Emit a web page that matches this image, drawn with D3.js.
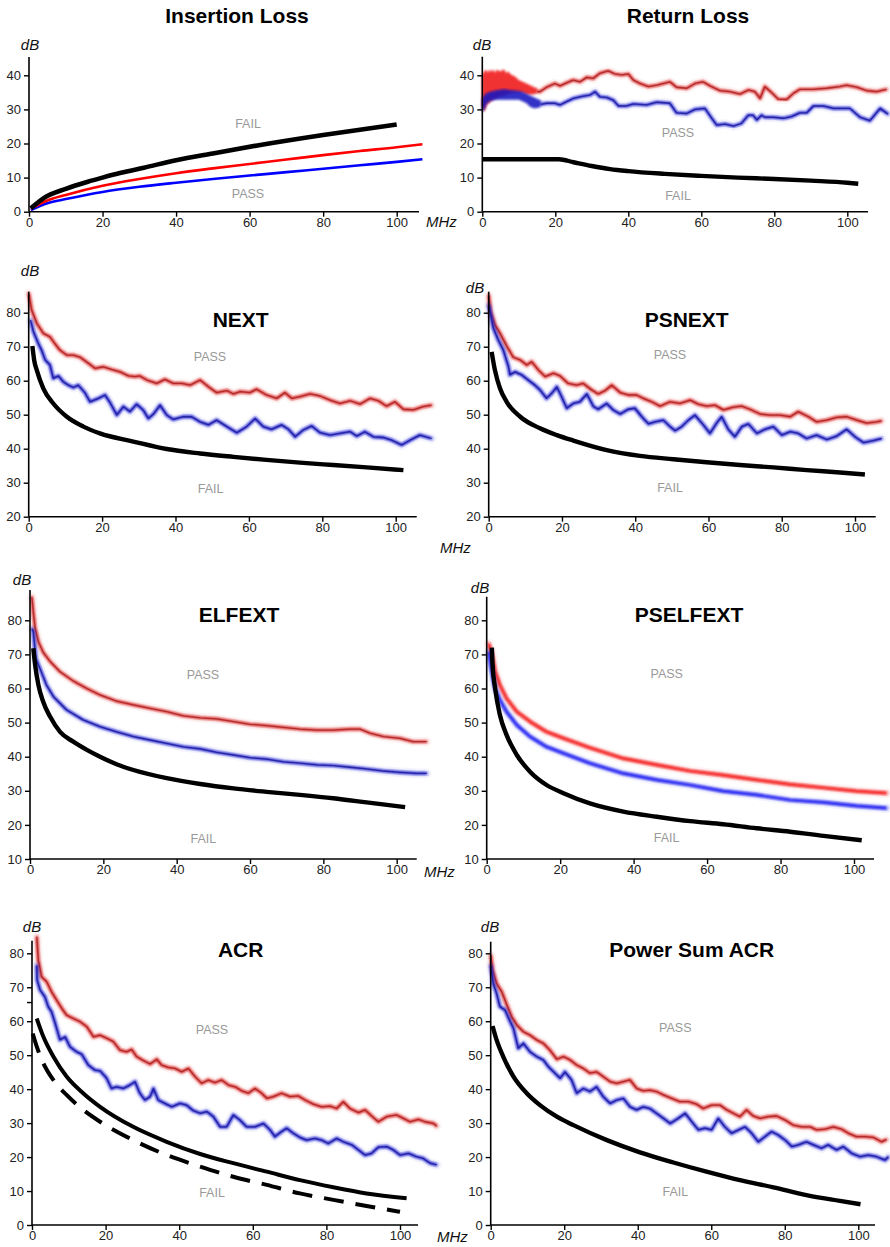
<!DOCTYPE html>
<html>
<head>
<meta charset="utf-8">
<script src="https://cdn.jsdelivr.net/npm/d3@7"></script>
<style>
  html, body { margin: 0; padding: 0; background: #fff; }
  svg { display: block; }
</style>
</head>
<body>
<script>
// ---------------- DATA (frequency MHz, dB) ----------------
const xTicks = [0, 20, 40, 60, 80, 100];
const ilTicks = [0, 10, 20, 30, 40];
const rlTicks = [0, 10, 20, 30, 40];
const nextTicks = [20, 30, 40, 50, 60, 70, 80];
const elfextTicks = [10, 20, 30, 40, 50, 60, 70, 80];
const acrTicks = [0, 10, 20, 30, 40, 50, 60, 70, 80];

// Insertion loss
const ilLimit = [[0.5,1.0],[4,4.0],[10,6.7],[16,8.8],[20,10.0],[25,11.4],[31.25,12.9],[40,15.1],[50,17.1],[62.5,19.5],[80,22.5],[100,25.6]];
const ilRed = [[0.5,0.9],[5,3.3],[10,4.9],[20,7.6],[30,9.6],[40,11.3],[50,12.7],[60,14.0],[70,15.3],[80,16.6],[90,17.8],[100,18.9],[107,19.8]];
const ilBlue = [[0.5,0.5],[5,2.5],[10,3.7],[20,5.8],[30,7.3],[40,8.5],[50,9.6],[60,10.6],[70,11.6],[80,12.6],[90,13.6],[100,14.6],[107,15.4]];

// Return loss
const rlLimit = [[0,15.4],[21,15.4],[25,14.5],[30,13.4],[35,12.5],[40,11.9],[50,11.1],[60,10.5],[70,10.0],[80,9.6],[90,9.1],[100,8.5],[103,8.2]];
const rlRedBand = [[0,31,40],[0.5,29.5,41],[1,31,41.5],[1.5,32,40.5],[2,32,41.5],[2.5,33,41],[3,33,41.5],[3.5,33.5,40.5],[4,33.5,41.5],[5,34,41],[5.5,34,41.5],[6,34,41.5],[6.5,34.5,40.5],[7,34.5,41],[8,35,40],[9,35,39.5],[10,35,38.5],[11,35,38],[12,34.5,37.5],[13,34.5,37],[14,34.5,36.5],[15,35,36]];
const rlBlueBand = [[0,29.5,33],[0.5,30,34],[1,31.5,34.5],[2,32.5,35],[4,33,35.5],[6,33,35.8],[8,33,35.5],[10,33,35.3],[11,32.5,35],[12,32,34.5],[13,31,34],[14,30.5,33.5],[15,30.5,33],[16,31,32.5]];
const rlRed = [[15,35.2],[15.8,35.2],[17.6,36.5],[19.9,37.6],[21.3,36.9],[23.1,37.8],[24.9,38.6],[26.8,38.1],[28.6,39.4],[30.4,39.1],[32.2,40.6],[34.5,41.3],[36.3,40.4],[38.2,40.1],[40,40.4],[41.4,38.6],[43.2,37.6],[45.5,36.7],[47.8,37.1],[51.4,38.1],[53.2,36.5],[56,36.2],[58.3,37.6],[60.5,38.1],[62.4,36.9],[65.1,35.5],[67.9,35.2],[70.6,34.5],[72.9,35.7],[74.7,35.2],[76.1,33.2],[77.4,36.7],[79.3,34.9],[81.1,33.0],[83.4,32.9],[85.2,34.7],[87,35.9],[90.7,35.9],[94.3,36.2],[98,36.7],[99.8,37.1],[102.6,36.5],[105.3,35.5],[108,35.2],[110.8,35.9]];
const rlBlue = [[16,31.5],[17.6,31.8],[19.9,31.8],[21.3,31.3],[23.1,32.3],[24.9,33.2],[27.7,33.9],[29.5,34.2],[30.9,35.2],[32.2,33.7],[34.1,33.5],[35.9,32.7],[37.3,31.0],[39.5,31.0],[41.4,31.6],[45,31.3],[47.8,32.1],[51.4,31.8],[53.2,29.0],[56,28.8],[58.3,30.0],[61,30.3],[62.4,28.1],[64.2,25.4],[66.5,25.7],[68.8,25.1],[71,25.9],[72.9,28.3],[74.2,28.3],[75.2,26.9],[76.5,28.3],[77.4,27.7],[79.7,27.7],[82.5,27.4],[84.7,27.9],[87,29.0],[88.9,29.0],[90.7,31.0],[93.4,31.0],[96.2,30.3],[100.7,30.3],[103.5,27.7],[106.2,26.7],[109,30.3],[111.2,28.6]];

// NEXT
const nextLimit = [[1,70.2],[1.5,66],[2.2,63.1],[4,57.7],[6.7,53.3],[10.4,49.4],[14.9,46.5],[19.4,44.5],[28.5,42.1],[37.6,39.9],[46.7,38.6],[55.8,37.6],[64.8,36.7],[73.9,35.9],[83,35.2],[92.1,34.5],[102.1,33.7]];
const nextRed = [[0,85.7],[0.8,80.8],[2.2,76.9],[4,73.9],[5.8,72.9],[7.2,70.8],[8.5,69],[10.4,67.5],[12.2,67.5],[14,66.9],[16.3,65.1],[18.1,63.6],[20.3,64.1],[22.6,63.3],[24.9,62.6],[27.2,61.4],[29,61.2],[30.3,61.4],[32.2,60.2],[34.9,59.2],[37.1,60.4],[39.4,59.2],[41.7,59.2],[44,58.7],[46.7,60.2],[49,58.2],[51.2,56.5],[54,57.1],[55.8,56.1],[57.6,56.8],[60.3,56.5],[62.1,57.5],[64.8,55.8],[67.6,54.8],[69.8,56.5],[71.7,54.8],[73.9,55.3],[76.7,56.1],[79.4,55.5],[82.1,54.3],[84.8,53.3],[87.6,54.1],[90.3,53.1],[93,54.8],[95.3,54.1],[97.5,52.5],[99.8,53.8],[102.1,51.6],[104.8,51.4],[107.5,52.4],[109.8,52.8]];
const nextBlue = [[0.5,77.8],[1.3,74.4],[2.6,71],[3.5,69],[4.5,66.1],[5.8,64.6],[6.7,60.7],[8.1,61.4],[9.4,59.7],[10.8,58.7],[12.2,58],[13.5,58.7],[15.3,56.5],[16.7,53.8],[19,54.8],[20.8,55.8],[22.2,53.5],[24,49.9],[25.8,52.4],[27.6,50.9],[29.4,53.1],[31.2,51.4],[32.6,48.9],[34,50.2],[35.8,52.8],[37.6,49.9],[39.4,48.6],[42.1,49.4],[44.4,49.4],[46.7,47.9],[49,47],[51.2,48.4],[54,46.5],[56.7,44.7],[59.4,46.5],[61.7,48.9],[63.9,46.5],[66.2,45.7],[68.9,47],[70.8,45.7],[72.6,43.5],[74.8,45.5],[77.1,46.7],[79.4,44.7],[82.1,44],[84.8,44.5],[87.6,45],[89.4,43.7],[91.6,45],[93.9,43.5],[96.6,43.3],[98.9,42.5],[101.6,41.1],[103.9,42.5],[106.6,44],[109.8,43]];

// PSNEXT
const psnextLimit = [[0.8,68.5],[1.7,63.1],[3.1,57.7],[4.9,53.8],[8.6,49.4],[14,46],[18.6,44],[23.1,42.4],[32.2,39.6],[41.3,37.9],[50.4,36.9],[59.5,36],[68.6,35.2],[77.7,34.5],[86.8,33.7],[95.9,33],[102.7,32.4]];
const psnextRed = [[0,85.2],[0.5,80.3],[1.7,76.4],[3.1,73.9],[4.9,70.2],[6.7,66.9],[8.6,66.1],[10.4,64.6],[11.7,65.6],[13.6,63.1],[15.4,61.2],[17.7,62.2],[19.5,61.4],[21.7,59.2],[24,58.7],[25.8,59.2],[28.1,57.3],[29.9,56.1],[31.8,57.1],[33.6,58.7],[35.9,56.5],[38.1,55.8],[40.4,55.8],[42.2,54.8],[44.5,53.8],[46.8,52.5],[49.5,53.8],[52.2,53.3],[55,54.3],[57.2,53.1],[59.5,52.5],[61.8,52.8],[64.1,51.4],[66.8,52.2],[69.1,52.5],[71.3,51.6],[74.1,50.2],[76.8,49.9],[79.5,49.9],[82.3,49.4],[84.5,50.9],[87.3,49.4],[89.5,47.9],[92.3,48.4],[95,49.2],[97.7,49.4],[100.5,48.4],[103.2,47.5],[105.9,47.9],[107.3,48.2]];
const psnextBlue = [[0,82.3],[1.3,75.4],[2.6,72],[4,69],[5.4,64.1],[5.8,61.7],[7.2,62.6],[9,61.7],[10.8,60.2],[12.6,58.7],[14,57.3],[15.8,54.8],[17.2,56.3],[18.6,58.2],[19.9,55.3],[21.3,51.9],[23.1,53.3],[24.9,53.8],[26.8,56.1],[28.6,52.4],[29.9,51.6],[32.2,53.3],[34,51.4],[35.9,50.2],[38.1,51.6],[39.9,51.9],[41.8,49.4],[43.6,47.3],[45.4,47.9],[47.7,48.4],[49.5,46.5],[50.9,45.3],[52.7,46.5],[54.5,48.4],[56.3,49.9],[58.6,47],[60.4,44.5],[62.2,47.5],[63.6,49.4],[65.4,45.7],[67.2,43.5],[69.1,46.5],[70.9,47.3],[73.2,44.5],[75.4,45.7],[77.7,46.5],[80,44],[82.3,45],[84.5,44.5],[86.8,43],[89.5,44],[92.3,42.7],[95,43.7],[97.7,45.7],[100,43.5],[102.3,41.8],[105,42.4],[107.3,43]];

// ELFEXT
const elfextLimit = [[0.9,71.8],[1.4,66.9],[2.3,61],[3.6,56.1],[5.5,51.7],[8.2,47.3],[11.8,44.4],[15.5,42],[19.1,40],[23.6,37.8],[28.2,36.1],[37.3,33.7],[46.4,32],[55.5,30.7],[64.5,29.7],[73.6,28.8],[82.7,27.8],[91.8,26.6],[102.3,25.2]];
const elfextRed = [[0.5,86.9],[0.9,82.5],[1.4,77.6],[2.3,73.7],[3.6,70.6],[5.5,67.9],[8.2,64.9],[11.8,62.2],[15.5,60],[19.1,58.1],[23.6,56.3],[28.2,55.2],[32.7,54.2],[37.3,53.2],[41.8,52],[46.4,51.4],[50.9,51.1],[55.5,50.3],[60,49.5],[64.5,49.1],[69.1,48.6],[73.6,48.1],[78.2,47.8],[82.7,47.8],[87.3,48.1],[90,48.1],[92.7,46.9],[96.4,45.9],[100.9,45.4],[104.5,44.4],[108.2,44.4]];
const elfextBlue = [[0.5,77.6],[0.9,76.7],[1.6,68.8],[2.3,66.9],[2.7,65.9],[4.5,61],[6.4,57.6],[10,53.7],[14.5,50.8],[19.1,48.8],[23.6,47.3],[28.2,45.9],[32.7,44.9],[37.3,43.9],[41.8,42.9],[46.4,42.3],[50.9,41.3],[55.5,40.5],[60,39.7],[64.5,39.3],[69.1,38.5],[73.6,38.1],[78.2,37.6],[82.7,37.4],[87.3,36.9],[91.8,36.4],[96.4,35.8],[100.9,35.4],[105.5,35.1],[108.2,35.1]];

// PSELFEXT
const pselfextLimit = [[1.4,72],[1.6,66.9],[2.3,60],[3.6,52.2],[5.4,46.4],[8.2,40.5],[11.8,35.6],[16.3,31.7],[20.9,29.3],[28.1,26.3],[37.2,23.9],[46.3,22.4],[55.4,21.1],[64.4,20.2],[73.5,19],[82.6,18],[91.7,16.8],[102.1,15.5]];
const pselfextRed = [[0.5,73.2],[1.4,70.3],[2.3,64.9],[3.6,61],[5.4,57.1],[8.2,53.2],[11.8,50.3],[16.3,47.3],[20.9,45.4],[28.1,42.6],[37.2,39.5],[46.3,37.6],[55.4,35.8],[64.4,34.6],[73.5,33.2],[82.6,31.9],[91.7,30.9],[100.7,29.9],[108.9,29.3]];
const pselfextBlue = [[0.5,70.8],[1.4,64.9],[2.3,60],[3.6,56.6],[5.4,53.2],[8.2,49.3],[11.8,45.9],[16.3,42.9],[20.9,41],[28.1,38.1],[37.2,35.1],[46.3,33.2],[55.4,31.7],[64.4,29.9],[73.5,28.8],[82.6,27.3],[91.7,26.6],[100.7,25.6],[108.9,24.9]];

// ACR
const acrLimit = [[1.3,60.8],[3.1,55.4],[5.8,49.6],[9.4,43.7],[13.9,38.8],[18.5,34.8],[27.5,28.9],[36.6,24.5],[45.7,20.9],[54.7,18.2],[63.8,15.7],[72.8,13.2],[81.9,11.1],[90.9,9.3],[101.8,7.9]];
const acrLimitAlt = [[0.2,56.4],[1.3,52.5],[3.1,47.6],[5.8,42.7],[9.4,38.3],[13.9,33.9],[18.5,30.4],[27.5,25],[36.6,20.6],[45.7,17.2],[54.7,14.2],[63.8,11.8],[72.8,9.3],[81.9,7.4],[90.9,5.6],[100,3.9]];
const acrRed = [[1.3,84.9],[1.7,78],[2.6,73.1],[4,71.6],[5.3,68.7],[6.7,66.2],[8.1,63.8],[9.4,61.8],[11.2,60.8],[13,59.9],[14.9,58.4],[16.7,55.4],[18.5,55.9],[20.3,55],[22.1,54],[23.9,51.5],[25.7,51],[27.1,51.7],[28.4,49.6],[30.3,48.4],[32.1,47.4],[33.9,48.8],[35.2,47.1],[37,46.4],[38.9,46.1],[40.7,45.1],[42.5,46.1],[44.3,43.7],[46.1,41.7],[47.9,42.7],[49.7,41.9],[51.5,42.7],[53.4,41.2],[55.2,40.7],[57,39.5],[58.8,38.8],[60.6,40.2],[62.4,38.8],[63.8,37.3],[65.6,37.8],[67.8,38.8],[70.1,37.8],[72.4,38],[74.2,36.8],[76.4,35.6],[78.7,34.8],[81,35],[82.8,34.3],[84.6,36.3],[86.4,34.3],[88.7,33.1],[90.5,33.9],[92.3,32.1],[94.1,30.4],[96.4,31.9],[99.1,32.4],[100.9,31.4],[102.7,30.4],[105,31.1],[106.8,30.4],[109.1,29.9],[110,29.1]];
const acrBlue = [[1.3,76.5],[1.4,72.1],[2.2,69.2],[3.5,67.2],[4.4,64.3],[5.3,62.8],[6.3,59.4],[7.6,54.5],[9,55.4],[10.3,52.5],[12.1,51],[13.5,50.3],[15.3,47.1],[17.1,45.6],[18.5,45.4],[20.3,43.2],[21.6,40.2],[23,40.7],[24.8,40.2],[26.6,41.2],[28,42.2],[29.3,38.8],[30.7,36.8],[32.1,37.8],[33,40.2],[34.3,36.8],[36.1,35.8],[38,34.8],[40.2,35.8],[42,35.3],[43.8,33.7],[45.7,32.9],[47.5,33.4],[49.3,31.9],[51.1,28.9],[52.9,28.9],[54.7,32.4],[56.5,30.9],[58.3,28.9],[60.6,28.9],[62.9,29.9],[64.7,28],[66,26],[67.8,27.5],[69.2,28.5],[71,27],[72.8,25.8],[74.6,25],[76.9,25.5],[78.7,25],[80.5,24],[82.8,25.5],[84.6,24.5],[86.9,23.6],[88.7,22.1],[90.5,20.6],[92.3,21.1],[94.1,22.9],[96.4,23.1],[98.2,22.1],[100,20.6],[102.3,21.1],[104.5,20.1],[106.3,19.6],[108.2,18.2],[110,17.7]];

// Power Sum ACR
const psacrLimit = [[0.5,58.6],[1.6,54.5],[3.4,49.6],[6.2,43.7],[9.8,38.8],[13.4,35.3],[18,31.9],[22.5,29.4],[31.6,25],[40.6,21.4],[49.7,18.4],[58.7,15.7],[67.8,13.2],[76.9,11.1],[85.9,8.8],[95,7.1],[100.6,6.1]];
const psacrRed = [[0,79.5],[0.5,75.1],[1.6,71.1],[3,68.7],[4.4,64.8],[5.7,61.3],[7.1,58.9],[8.9,56.9],[10.7,55.9],[12.5,54.5],[14.3,53.5],[16.1,51.5],[18,48.8],[19.8,49.6],[21.6,48.6],[23.4,47.1],[25.2,46.1],[27,44.7],[28.8,45.1],[30.6,43.7],[32.5,42.2],[34.3,41.7],[36.1,42.2],[37.9,42.7],[39.7,40.2],[41.5,39.5],[43.3,39.7],[45.1,39.3],[47,38.3],[49.2,37.3],[51.5,36.3],[53.8,36.3],[56,35.6],[57.8,34.3],[60.1,35.3],[62.4,35.3],[64.2,33.9],[66,32.9],[67.8,31.9],[69.6,33.9],[71.4,32.1],[73.3,31.4],[75.5,31.9],[77.8,32.1],[80.1,30.9],[82.3,29.4],[84.6,28.9],[86.9,28.9],[88.7,28],[90.9,28.2],[93.2,28.9],[95.5,28.2],[97.3,27],[99.5,26],[101.8,26],[104.1,25.8],[106.3,24.5],[107.7,25.2]];
const psacrBlue = [[0,76.5],[0.7,71.1],[1.6,68.2],[2.5,64.3],[3.9,63.3],[5.3,59.9],[6.2,57.9],[7.5,52],[8.9,53.5],[10.7,51],[12.5,49.6],[14.3,48.6],[15.7,46.6],[17.5,44.7],[18.9,43.2],[20.2,45.1],[22,42.7],[23.4,38.8],[25.2,40.2],[27,39.3],[28.8,40.7],[30.6,37.8],[32.5,35.8],[34.3,36.8],[36.1,37.3],[37.9,34.8],[39.7,33.9],[41.5,34.8],[43.3,34.3],[45.1,32.9],[47,31.4],[48.8,29.9],[51,31.4],[52.9,32.9],[54.7,30.4],[56.5,28],[58.3,28.5],[60.1,28],[61.9,31.4],[63.7,28.9],[65.5,27],[67.4,28],[69.2,28.9],[71,27],[72.8,24.5],[74.6,26],[76.4,27.5],[78.2,26.5],[80.1,25],[81.9,23.1],[83.7,23.6],[85.9,24.5],[87.8,23.6],[90,22.6],[91.8,23.6],[94.1,22.1],[95.9,23.1],[98.2,21.1],[100.5,20.1],[102.7,20.6],[105,20.1],[107.3,19.1],[108.2,20.1]];

// ---------------- STYLE / LAYOUT ----------------
const FONT = "'Liberation Sans', Arial, Helvetica, sans-serif";
const RED = '#dc3030', BLUE = '#2c2cd4';
const RED_CORE = '#a82424', BLUE_CORE = '#1c1c98';

const svg = d3.select('body').append('svg')
  .attr('width', 890).attr('height', 1247)
  .attr('viewBox', '0 0 890 1247');

const defs = svg.append('defs');
defs.append('filter').attr('id', 'soft').attr('x', '-5%').attr('y', '-5%').attr('width', '110%').attr('height', '110%')
  .append('feGaussianBlur').attr('stdDeviation', 0.8);
defs.append('filter').attr('id', 'soft2').attr('x', '-5%').attr('y', '-5%').attr('width', '110%').attr('height', '110%')
  .append('feGaussianBlur').attr('stdDeviation', 0.4);

const panels = [
  { title: 'Insertion Loss', tx: 237, ty: 23, x0: 29, x100: 396.7, xEnd: 419, yDom: [0, 40], yR: [211.7, 75.3], yTop: 57, yTicks: ilTicks,
    dB: [30, 50], mhz: [426, 227], pass: [248, 198], fail: [248, 128],
    lines: [ {d: ilBlue, c: '#0000ff', w: 2.6, smooth: true}, {d: ilRed, c: '#ff0000', w: 2.6, smooth: true}, {d: ilLimit, c: '#000', w: 4.6, smooth: true} ] },
  { title: 'Return Loss', tx: 688, ty: 23, x0: 482.3, x100: 847.3, xEnd: 868, yDom: [0, 40], yR: [211.7, 75.3], yTop: 56.7, yTicks: rlTicks,
    dB: [482, 50], pass: [678, 137], fail: [678, 200],
    bands: [ {d: rlRedBand, c: '#f01818'}, {d: rlBlueBand, c: '#1414c0'} ],
    lines: [ {d: rlRed, c: RED, w: 2.6, glow: true, core: RED_CORE}, {d: rlBlue, c: BLUE, w: 2.6, glow: true, core: BLUE_CORE}, {d: rlLimit, c: '#000', w: 4.4, smooth: true} ] },
  { title: 'NEXT', tx: 240.7, ty: 327, x0: 28.7, x100: 395.7, xEnd: 416.7, yDom: [20, 80], yR: [516.7, 312.7], yTop: 291.7, yTicks: nextTicks,
    dB: [30, 276], pass: [210, 361], fail: [210.7, 493],
    lines: [ {d: nextRed, c: RED, w: 2.8, glow: true, core: RED_CORE}, {d: nextBlue, c: BLUE, w: 2.8, glow: true, core: BLUE_CORE}, {d: nextLimit, c: '#000', w: 4.4, smooth: true} ] },
  { title: 'PSNEXT', tx: 686.7, ty: 327, x0: 488.7, x100: 855, xEnd: 875.7, yDom: [20, 80], yR: [516.7, 312.7], yTop: 291.7, yTicks: nextTicks,
    dB: [475, 293], mhz: [440, 553], pass: [670, 359], fail: [670, 492],
    lines: [ {d: psnextRed, c: RED, w: 2.8, glow: true, core: RED_CORE}, {d: psnextBlue, c: BLUE, w: 2.8, glow: true, core: BLUE_CORE}, {d: psnextLimit, c: '#000', w: 4.4, smooth: true} ] },
  { title: 'ELFEXT', tx: 239, ty: 622, x0: 30, x100: 396.7, xEnd: 416.7, yDom: [10, 80], yR: [859, 620.3], yTop: 590, yTicks: elfextTicks,
    dB: [22, 585], mhz: [424, 877], pass: [203, 679], fail: [203.3, 843],
    lines: [ {d: elfextRed, c: RED, w: 2.6, glow: true, core: RED_CORE}, {d: elfextBlue, c: BLUE, w: 2.6, glow: true, core: BLUE_CORE}, {d: elfextLimit, c: '#000', w: 4.4, smooth: true} ] },
  { title: 'PSELFEXT', tx: 689, ty: 622, x0: 486.7, x100: 854, xEnd: 874, yDom: [10, 80], yR: [859, 620.3], yTop: 596.7, yTicks: elfextTicks,
    dB: [480, 593], pass: [666.7, 678], fail: [666.7, 842],
    lines: [ {d: pselfextRed, c: '#f52020', w: 3.2, glow: true}, {d: pselfextBlue, c: '#2424f2', w: 3.2, glow: true}, {d: pselfextLimit, c: '#000', w: 4.4, smooth: true} ] },
  { title: 'ACR', tx: 240.7, ty: 957, x0: 32, x100: 400, xEnd: 418, yDom: [0, 80], yR: [1225, 953.3], yTop: 940.7, yTicks: acrTicks, extraTick: 65.5,
    dB: [32, 932], pass: [212, 1034], fail: [212, 1197],
    lines: [ {d: acrRed, c: RED, w: 2.8, glow: true, core: RED_CORE}, {d: acrBlue, c: BLUE, w: 2.8, glow: true, core: BLUE_CORE}, {d: acrLimit, c: '#000', w: 4, smooth: true}, {d: acrLimitAlt, c: '#000', w: 4, smooth: true, dash: '20,12'} ] },
  { title: 'Power Sum ACR', tx: 691.7, ty: 957, x0: 490.7, x100: 858.3, xEnd: 875, yDom: [0, 80], yR: [1225, 953.3], yTop: 941.7, yTicks: acrTicks,
    dB: [490, 932], mhz: [437, 1242], pass: [675.3, 1032], fail: [675.3, 1196],
    lines: [ {d: psacrRed, c: RED, w: 2.8, glow: true, core: RED_CORE}, {d: psacrBlue, c: BLUE, w: 2.8, glow: true, core: BLUE_CORE}, {d: psacrLimit, c: '#000', w: 4.4, smooth: true} ] }
];

function drawPanel(p) {
  const g = svg.append('g');
  const x = d3.scaleLinear().domain([0, 100]).range([p.x0, p.x100]);
  const y = d3.scaleLinear().domain(p.yDom).range(p.yR);
  const yBase = y(p.yDom[0]);

  // Bands (dense noisy region)
  (p.bands || []).forEach(b => {
    const area = d3.area().x(d => x(d[0])).y0(d => y(d[1])).y1(d => y(d[2])).curve(d3.curveLinear);
    g.append('path').datum(b.d).attr('d', area).attr('fill', b.c).attr('opacity', 0.88)
      .attr('stroke', b.c).attr('stroke-width', 1).attr('filter', 'url(#soft)');
  });

  // Lines
  p.lines.forEach(s => {
    const line = d3.line().x(d => x(d[0])).y(d => y(d[1]))
      .curve(s.smooth ? d3.curveMonotoneX : d3.curveLinear);
    if (s.glow) {
      g.append('path').datum(s.d).attr('d', line).attr('fill', 'none')
        .attr('stroke', s.c).attr('stroke-width', s.w + 7).attr('stroke-opacity', 0.05)
        .attr('stroke-linejoin', 'round').attr('stroke-linecap', 'round');
      g.append('path').datum(s.d).attr('d', line).attr('fill', 'none')
        .attr('stroke', s.c).attr('stroke-width', s.w + 2.5).attr('stroke-opacity', 0.16)
        .attr('stroke-linejoin', 'round').attr('stroke-linecap', 'round');
    }
    const path = g.append('path').datum(s.d).attr('d', line).attr('fill', 'none')
      .attr('stroke', s.c).attr('stroke-width', s.w)
      .attr('stroke-linejoin', 'round').attr('stroke-linecap', 'butt');
    if (s.dash) path.attr('stroke-dasharray', s.dash);
    if (s.glow) path.attr('filter', 'url(#soft)');
    if (s.core) {
      g.append('path').datum(s.d).attr('d', line).attr('fill', 'none')
        .attr('stroke', s.core).attr('stroke-width', 1.3).attr('stroke-opacity', 0.85)
        .attr('stroke-linejoin', 'round').attr('filter', 'url(#soft2)');
    }
  });

  // Axes
  const ax = g.append('g').attr('transform', `translate(0,${yBase})`)
    .call(d3.axisBottom(x).tickValues(xTicks).tickSize(5).tickPadding(1).tickSizeOuter(0).tickFormat(d3.format('d')));
  ax.select('.domain').remove();
  const ay = g.append('g').attr('transform', `translate(${p.x0},0)`)
    .call(d3.axisLeft(y).tickValues(p.yTicks).tickSize(5).tickPadding(3).tickSizeOuter(0).tickFormat(d3.format('d')));
  ay.select('.domain').remove();
  [ax, ay].forEach(a => {
    a.attr('font-family', FONT).attr('font-size', 13);
    a.selectAll('text').attr('fill', '#222');
    a.selectAll('line').attr('stroke', '#000').attr('stroke-width', 1.4);
  });
  if (p.extraTick !== undefined) {
    g.append('line').attr('x1', p.x0 - 5).attr('x2', p.x0)
      .attr('y1', y(p.extraTick)).attr('y2', y(p.extraTick))
      .attr('stroke', '#000').attr('stroke-width', 1.4);
  }
  g.append('line').attr('x1', p.x0).attr('x2', p.xEnd).attr('y1', yBase).attr('y2', yBase)
    .attr('stroke', '#000').attr('stroke-width', 1.6);
  g.append('line').attr('x1', p.x0).attr('x2', p.x0).attr('y1', yBase).attr('y2', p.yTop)
    .attr('stroke', '#000').attr('stroke-width', 1.6);

  // Texts
  g.append('text').attr('x', p.tx).attr('y', p.ty).attr('text-anchor', 'middle')
    .attr('font-family', FONT).attr('font-weight', 'bold').attr('font-size', 21).attr('fill', '#000')
    .text(p.title);
  g.append('text').attr('x', p.dB[0]).attr('y', p.dB[1]).attr('text-anchor', 'middle')
    .attr('font-family', FONT).attr('font-style', 'italic').attr('font-size', 15).attr('fill', '#111')
    .text('dB');
  if (p.mhz) {
    g.append('text').attr('x', p.mhz[0]).attr('y', p.mhz[1])
      .attr('font-family', FONT).attr('font-style', 'italic').attr('font-size', 15).attr('fill', '#111')
      .text('MHz');
  }
  g.append('text').attr('x', p.pass[0]).attr('y', p.pass[1]).attr('text-anchor', 'middle')
    .attr('font-family', FONT).attr('font-size', 12.5).attr('fill', '#999').text('PASS');
  g.append('text').attr('x', p.fail[0]).attr('y', p.fail[1]).attr('text-anchor', 'middle')
    .attr('font-family', FONT).attr('font-size', 12.5).attr('fill', '#999').text('FAIL');
}

panels.forEach(drawPanel);
</script>
</body>
</html>
